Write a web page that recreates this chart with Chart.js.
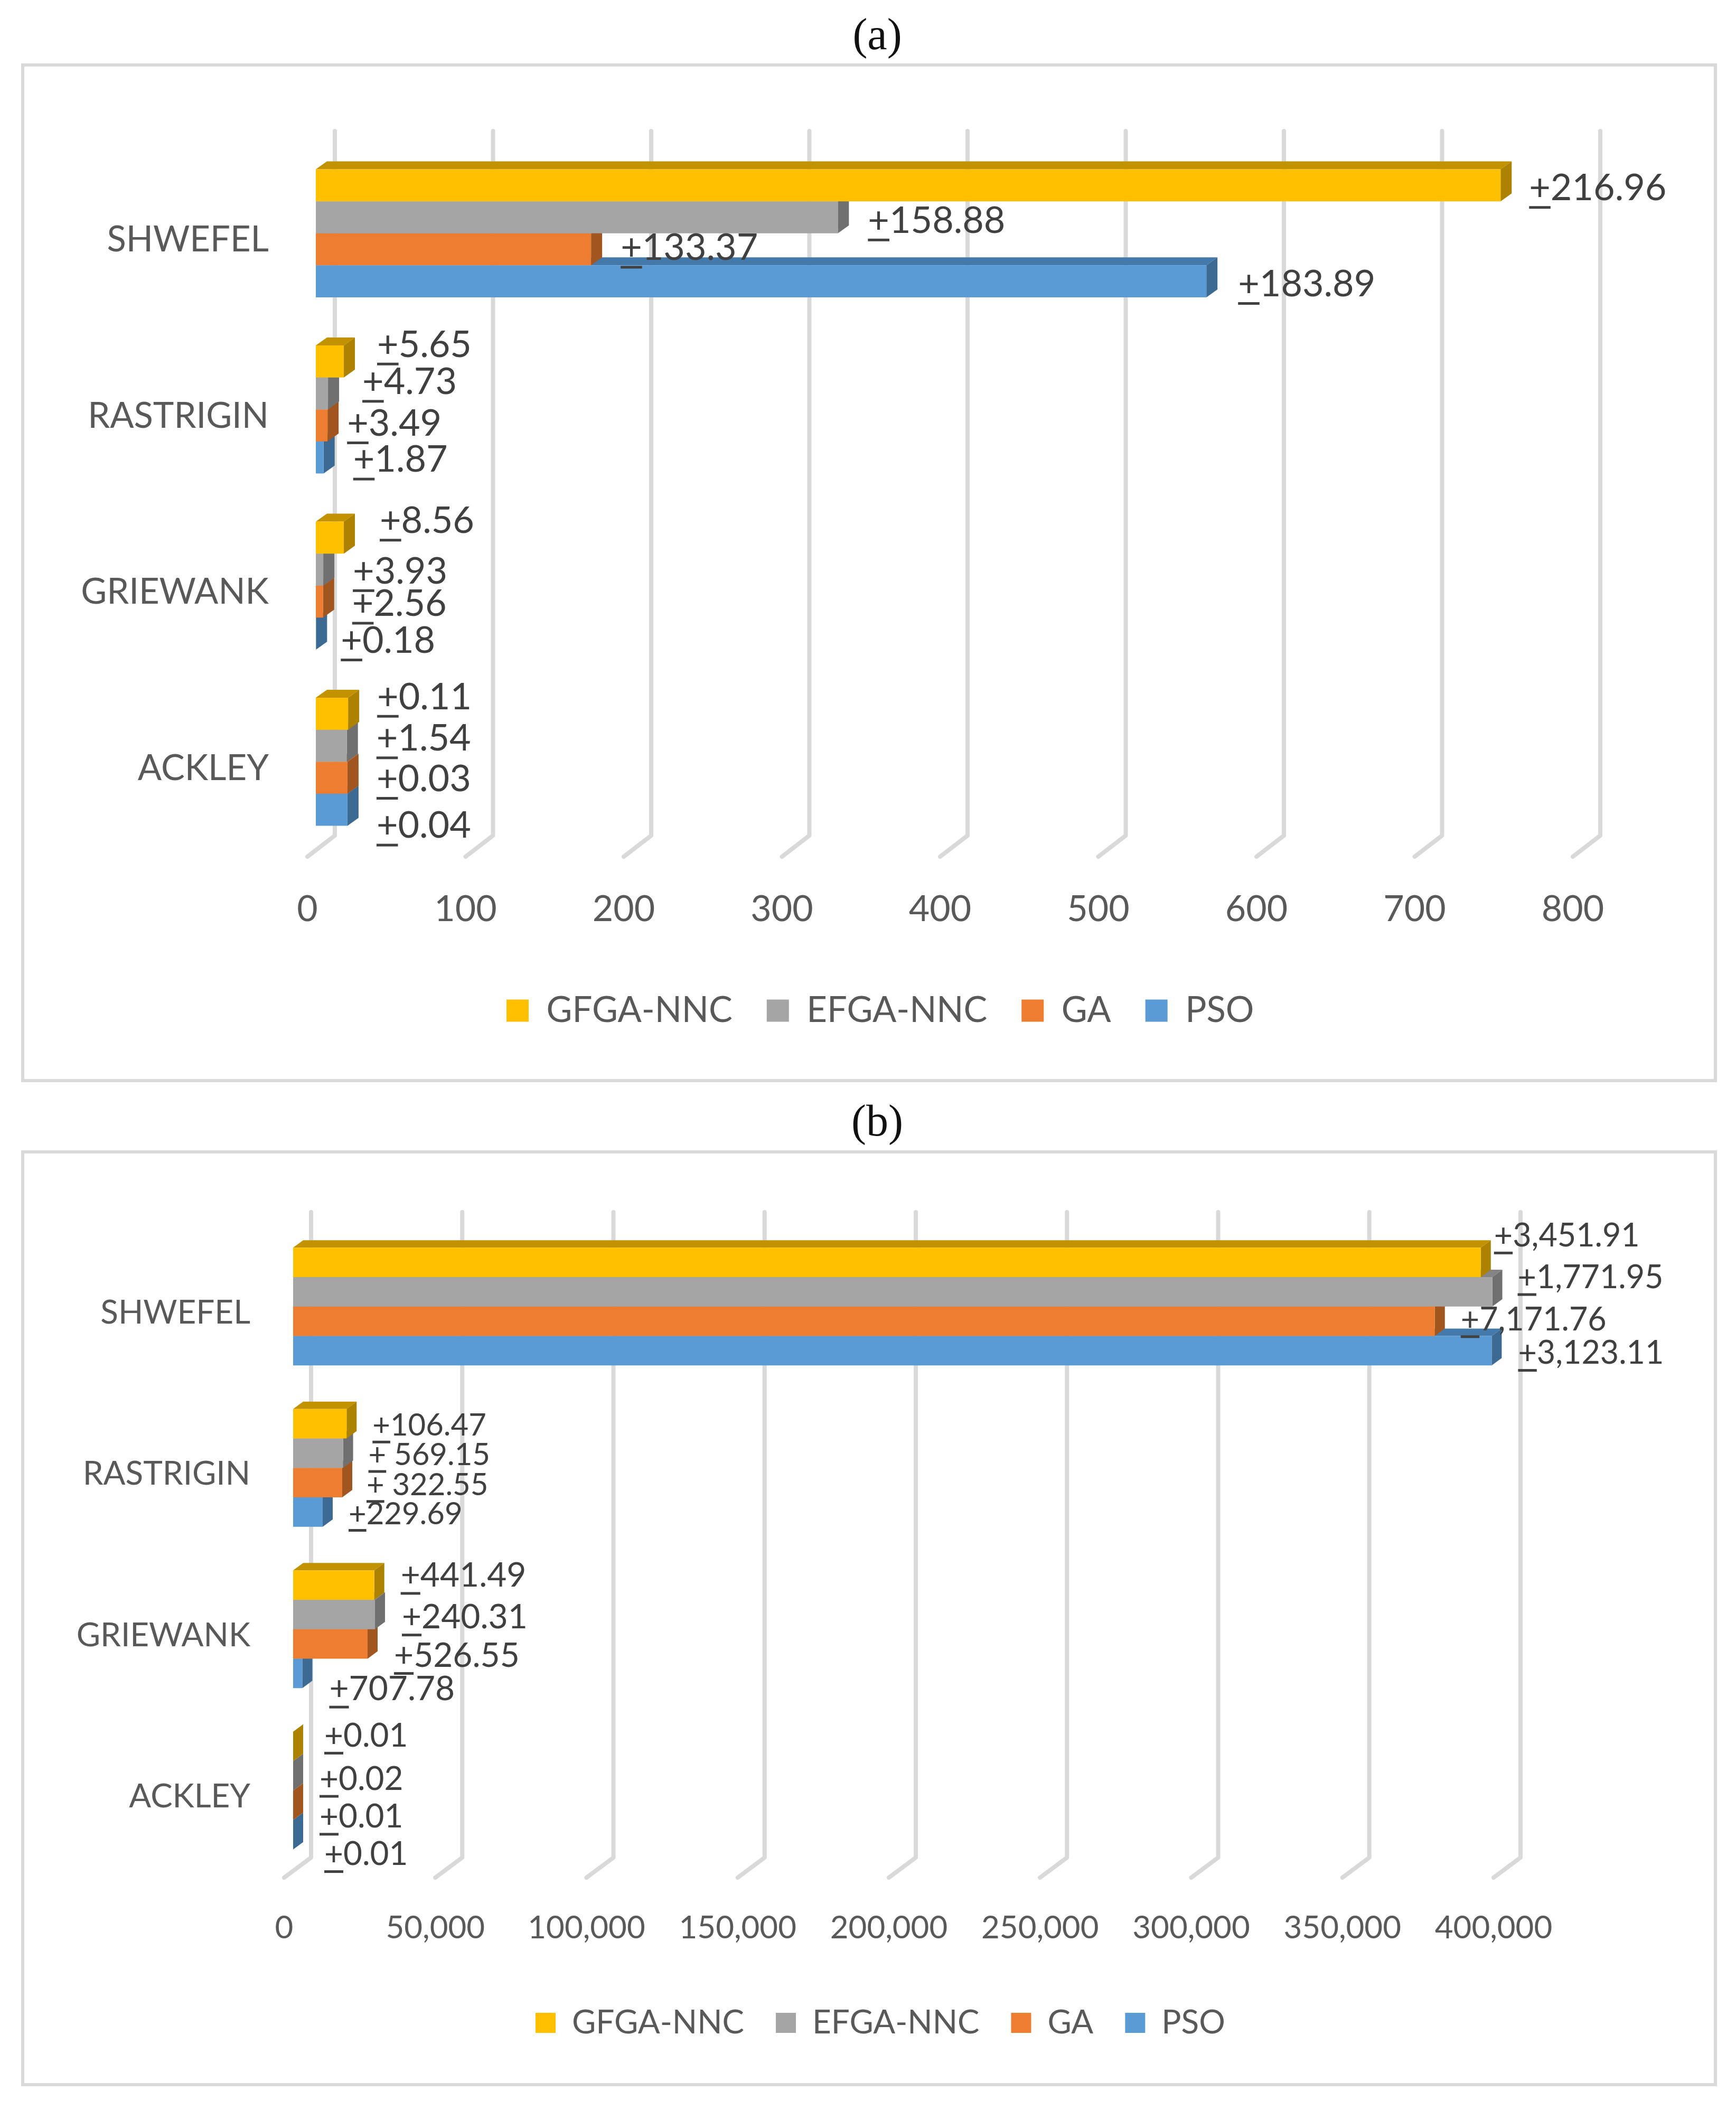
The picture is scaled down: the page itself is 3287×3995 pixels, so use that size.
<!DOCTYPE html>
<html><head><meta charset="utf-8">
<script src="https://cdn.jsdelivr.net/npm/chart.js@4"></script>
<style>
html,body{margin:0;padding:0;background:#fff;width:3287px;height:3995px;overflow:hidden}
.frame{position:absolute;box-sizing:border-box;border:6px solid #d9d9d9;background:#fff}
.cap{position:absolute;width:300px;text-align:center;font:84px "Liberation Serif",serif;color:#111;left:1511px}
canvas{position:absolute;left:0}
</style></head><body>
<div class="cap" style="top:16px">(a)</div>
<div class="frame" style="left:40px;top:120px;width:3211px;height:1929px"></div>
<div class="cap" style="top:2073px">(b)</div>
<div class="frame" style="left:40px;top:2178px;width:3211px;height:1772px"></div>
<canvas id="ca" width="3287" height="2060" style="top:0"></canvas>
<canvas id="cb" width="3287" height="1895" style="top:2100px"></canvas>
<script>
const categories=['SHWEFEL','RASTRIGIN','GRIEWANK','ACKLEY'];
const seriesNames=['GFGA-NNC','EFGA-NNC','GA','PSO'];
const seriesColors=['#FFC000','#A5A5A5','#ED7D31','#5B9BD5'];
const sideColors=['#AD8200','#707070','#A1551F','#3D6A92'];
const topColors=['#C29200','#848484','#BE6427','#447AAB'];

const aGFGA=[749,17.7,17.7,20.4];
const aEFGA=[330,7.7,4.7,19.6];
const aGA=[174,7.4,4.6,20];
const aPSO=[563,4.9,0.1,20];
const bGFGA=[392800,17690,26840,1];
const bEFGA=[396600,16520,27070,2];
const bGA=[377600,16240,24630,1];
const bPSO=[396400,9780,3040,1];

const aTextGFGA=['+216.96','+5.65','+8.56','+0.11'];
const aTextEFGA=['+158.88','+4.73','+3.93','+1.54'];
const aTextGA=['+133.37','+3.49','+2.56','+0.03'];
const aTextPSO=['+183.89','+1.87','+0.18','+0.04'];
const bTextGFGA=['+3,451.91','+106.47','+441.49','+0.01'];
const bTextEFGA=['+1,771.95','+ 569.15','+240.31','+0.02'];
const bTextGA=['+7,171.76','+ 322.55','+526.55','+0.01'];
const bTextPSO=['+3,123.11','+229.69','+707.78','+0.01'];

const aNudgeX=[[54,63,68,55],[57,65,56,56],[56,37,55,55],[60,56,47,55]];
const aNudgeY=[[3,-34,-34,-34],[4,-24,1,-16],[-5,-6,2,0],[3,2,11,28]];
const bNudgeX=[[25,49,50,59],[48,48,51,50],[49,46,50,50],[50,49,51,59]];
const bNudgeY=[[-52,2,-20,-22],[-29,2,3,4],[-5,3,20,20],[3,2,28,35]];

function panelOf(c){return c.canvas.id==='ca'?pA:pB;}

const walls3d={
  id:'walls3d',
  afterLayout(c){ const o=panelOf(c),l=c.legend; if(l){l.left=o.legendX; l.top=o.legendY; l.bottom=o.legendY+260; l.right=c.width;} },
  beforeDatasetsDraw(c){
    const o=panelOf(c),x=c.scales.x,a=c.chartArea,g=c.ctx;
    g.save();g.strokeStyle='#d9d9d9';g.lineWidth=8;g.lineJoin='round';g.lineCap='round';
    x.ticks.forEach((t,i)=>{
      const p=x.getPixelForTick(i);
      g.beginPath();g.moveTo(p,a.bottom);g.lineTo(p+o.wallDx,a.bottom-o.wallDy);g.lineTo(p+o.wallDx,a.top-o.wallDy);g.stroke();
    });
    g.restore();
  },
  beforeDatasetDraw(c,args){
    const o=panelOf(c),g=c.ctx,meta=args.meta,i=args.index;
    g.save();g.translate(o.barDx,-o.barDy);
    meta.data.forEach(b=>{
      const x=b.x,y=b.y,base=b.base,height=b.height;
      const t=y-height/2,e=y+height/2;
      g.fillStyle=topColors[i];g.beginPath();g.moveTo(base,t);g.lineTo(x,t);g.lineTo(x+o.depthX,t-o.depthY);g.lineTo(base+o.depthX,t-o.depthY);g.closePath();g.fill();
      g.fillStyle=sideColors[i];g.beginPath();g.moveTo(x,t);g.lineTo(x+o.depthX,t-o.depthY);g.lineTo(x+o.depthX,e-o.depthY);g.lineTo(x,e);g.closePath();g.fill();
    });
  },
  afterDatasetDraw(c){ c.ctx.restore(); },
  afterDatasetsDraw(c){
    const o=panelOf(c),g=c.ctx;
    g.save();g.textBaseline='alphabetic';g.textAlign='left';
    c.data.datasets.forEach((d,i)=>{
      c.getDatasetMeta(i).data.forEach((b,k)=>{
        const s=o.fontSizes[k];
        const lx=b.x+o.barDx+o.nudgeX[i][k], cy=b.y-o.barDy+o.nudgeY[i][k];
        const by=cy+s*0.36;
        g.fillStyle='#404040';g.font=s+'px Lato';
        g.fillText(o.texts[i][k],lx,by);
        g.fillRect(lx,by+s*0.16,g.measureText('+').width,5);
      });
    });
    g.restore();
  }
};

const pA={wallDx:52,wallDy:40,barDx:16,barDy:13,depthX:21,depthY:15,legendX:894,legendY:1815,fontSizes:[70,70,70,70],nudgeX:aNudgeX,nudgeY:aNudgeY,texts:[aTextGFGA,aTextEFGA,aTextGA,aTextPSO]};
const pB={wallDx:51,wallDy:38,barDx:17,barDy:12,depthX:19,depthY:14,legendX:954,legendY:1639,fontSizes:[61,58,64,62],nudgeX:bNudgeX,nudgeY:bNudgeY,texts:[bTextGFGA,bTextEFGA,bTextGA,bTextPSO]};

function build(id,values,max,step,cfg){
  return new Chart(document.getElementById(id),{
    type:'bar',
    plugins:[walls3d],
    data:{labels:categories,datasets:seriesNames.map((n,i)=>({label:n,data:values[i],backgroundColor:seriesColors[i],borderWidth:0,clip:false,categoryPercentage:cfg.catPct,barPercentage:1}))},
    options:{
      indexAxis:'y',responsive:false,animation:false,devicePixelRatio:1,
      layout:{padding:{left:0,top:cfg.top,right:cfg.right,bottom:cfg.bottom}},
      scales:{
        x:{min:0,max:max,ticks:{stepSize:step,color:'#595959',font:{family:'Lato',size:cfg.tick},maxRotation:0,autoSkip:false,padding:cfg.tickPad},grid:{display:false,drawTicks:false},border:{display:false},
           afterFit(s){s.height=cfg.xh;}},
        y:{ticks:{color:'#595959',font:{family:'Lato',size:cfg.cat},padding:cfg.catPad},grid:{display:false,drawTicks:false},border:{display:false},
           afterFit(s){s.width=cfg.left;}}
      },
      plugins:{
        title:{display:false},tooltip:{enabled:false},
        legend:{position:'bottom',align:'start',labels:{color:'#595959',font:{family:'Lato',size:cfg.leg},boxWidth:cfg.box,boxHeight:cfg.box,padding:cfg.legPad}}
      }
    }
  });
}

build('ca',[aGFGA,aEFGA,aGA,aPSO],800,100,{
  catPct:0.727,top:288,right:3287-2978,bottom:136,xh:160,left:582,tick:68,tickPad:59,cat:67,catPad:73,leg:67,box:42,legPad:65});
build('cb',[bGFGA,bEFGA,bGA,bPSO],400000,50000,{
  catPct:0.73,top:233,right:3287-2828,bottom:148,xh:160,left:538,tick:60,tickPad:60,cat:62,catPad:64,leg:62,box:38,legPad:60});
</script>
</body></html>
